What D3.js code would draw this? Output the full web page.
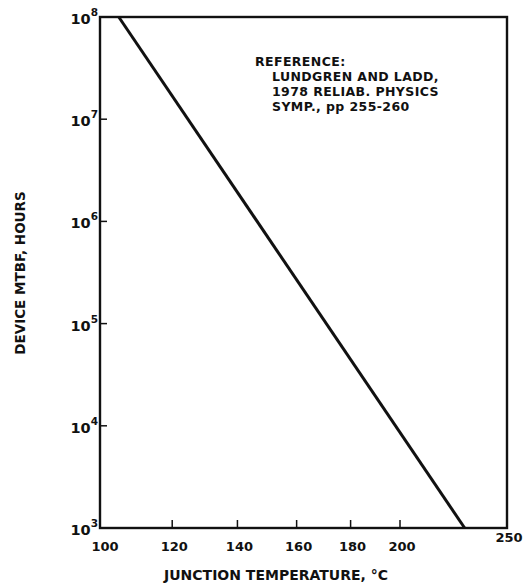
<!DOCTYPE html>
<html>
<head>
<meta charset="utf-8">
<script src="https://cdn.jsdelivr.net/npm/d3@7"></script>
<style>
  body { margin: 0; background: #fff; }
  text { font-family: "DejaVu Sans", sans-serif; font-weight: bold; fill: #111; }
</style>
</head>
<body>
<div id="chart"></div>
<script>
// tick values
const tempTicks = [100, 120, 140, 160, 180, 200, 250];
const mtbfTicks = [1e3, 1e4, 1e5, 1e6, 1e7, 1e8];

// the Arrhenius line, read at its two ends
const lineTemp = [105, 229];
const lineMtbf = [1e8, 1e3];

const refLines = [
    "REFERENCE:",
    "LUNDGREN AND LADD,",
    "1978 RELIAB. PHYSICS",
    "SYMP., pp 255-260"
];

const W = 525, H = 587;
const margin = { top: 17, right: 18, bottom: 59, left: 100 };
const width = W - margin.left - margin.right;
const height = H - margin.top - margin.bottom;

const svg = d3.select("#chart")
    .append("svg")
    .attr("width", W)
    .attr("height", H)
    .append("g")
    .attr("transform", `translate(${margin.left},${margin.top})`);

// x is linear in 1/T (Kelvin)
const invT = d3.scaleLinear()
    .domain([1 / (100 + 273.15), 1 / (250 + 273.15)])
    .range([0, width]);
const x = t => invT(1 / (t + 273.15));

const y = d3.scaleLog()
    .domain([1e3, 1e8])
    .range([height, 0]);

// frame
svg.append("rect")
    .attr("x", 0).attr("y", 0)
    .attr("width", width).attr("height", height)
    .attr("fill", "none")
    .attr("stroke", "#111")
    .attr("stroke-width", 2.4);

// x ticks (inward)
svg.selectAll(".xtick")
    .data(tempTicks.slice(1, -1))
    .enter().append("line")
    .attr("x1", d => x(d)).attr("x2", d => x(d))
    .attr("y1", height).attr("y2", height - 8)
    .attr("stroke", "#111")
    .attr("stroke-width", 1.5);

svg.selectAll(".xlabel")
    .data(tempTicks)
    .enter().append("text")
    .attr("x", d => x(d) + (d === 100 ? 5 : 2))
    .attr("y", d => height + (d === 250 ? 14 : 23))
    .attr("text-anchor", "middle")
    .style("font-size", "13px")
    .text(d => d);

// y ticks (inward)
svg.selectAll(".ytick")
    .data(mtbfTicks.slice(1, -1))
    .enter().append("line")
    .attr("x1", 0).attr("x2", 7)
    .attr("y1", d => y(d)).attr("y2", d => y(d))
    .attr("stroke", "#111")
    .attr("stroke-width", 1.5);

const ylab = svg.selectAll(".ylabel")
    .data(mtbfTicks)
    .enter().append("text")
    .attr("x", -2)
    .attr("y", d => y(d) + 7)
    .attr("text-anchor", "end")
    .style("font-size", "14.5px");
ylab.append("tspan").text("10");
ylab.append("tspan")
    .attr("dy", -8)
    .style("font-size", "10.5px")
    .text(d => Math.round(Math.log10(d)));

// data line
const line = d3.line()
    .x(d => x(d.t))
    .y(d => y(d.m));

svg.append("path")
    .datum(lineTemp.map((t, i) => ({ t: t, m: lineMtbf[i] })))
    .attr("fill", "none")
    .attr("stroke", "#111")
    .attr("stroke-width", 3)
    .attr("d", line);

// reference note
svg.selectAll(".ref")
    .data(refLines)
    .enter().append("text")
    .attr("x", (d, i) => i === 0 ? 155 : 172)
    .attr("y", (d, i) => 49 + i * 15)
    .style("font-size", "12.5px")
    .style("letter-spacing", "0.4px")
    .text(d => d);

// axis titles
svg.append("text")
    .attr("x", 176)
    .attr("y", height + 52)
    .attr("text-anchor", "middle")
    .style("font-size", "14px")
    .text("JUNCTION TEMPERATURE, °C");

svg.append("text")
    .attr("transform", `translate(${-75},${273 - margin.top}) rotate(-90)`)
    .attr("text-anchor", "middle")
    .style("font-size", "13.5px")
    .text("DEVICE MTBF, HOURS");
</script>
</body>
</html>
